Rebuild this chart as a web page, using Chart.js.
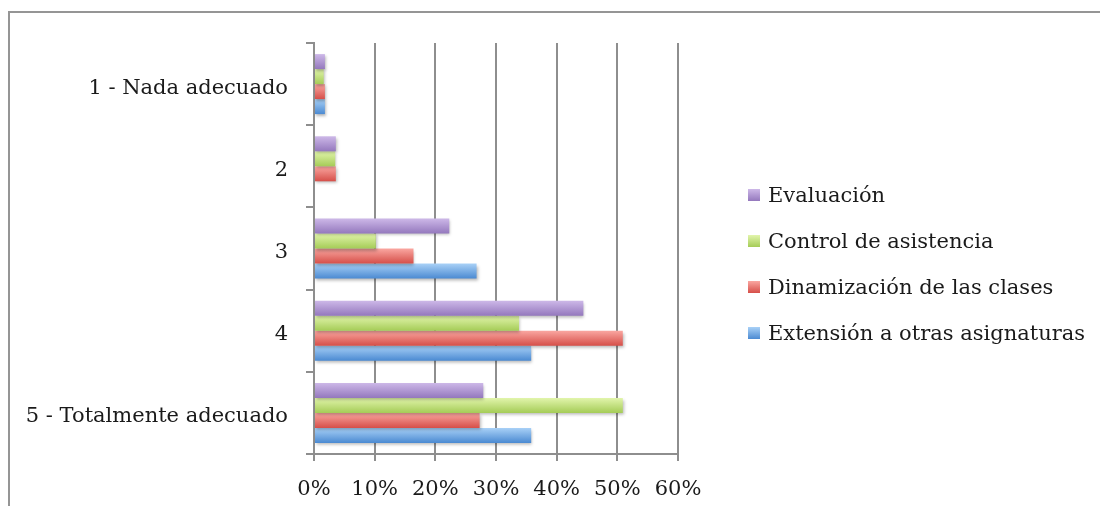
<!DOCTYPE html>
<html lang="es">
<head>
    <meta charset="UTF-8">
    <title>Valoración</title>
    <script src="https://cdn.jsdelivr.net/npm/chart.js"></script>
    <style>
        html, body {
            margin: 0;
            padding: 0;
            background: #ffffff;
            overflow: hidden;
        }
        .marco {
            position: relative;
            width: 1100px;
            height: 506px;
            overflow: hidden;
        }
        .borde {
            position: absolute;
            left: 8px;
            top: 11px;
            width: 1400px;
            height: 800px;
            border-top: 2px solid #959595;
            border-left: 2px solid #959595;
        }
        canvas {
            position: absolute;
            left: 0;
            top: 0;
        }
    </style>
</head>
<body>
    <div class="marco">
        <div class="borde"></div>
        <canvas id="myChart" width="1100" height="506"></canvas>
    </div>
    <script>
        const categorias = ['1 - Nada adecuado', '2', '3', '4', '5 - Totalmente adecuado'];
        const series = ['Evaluación', 'Control de asistencia', 'Dinamización de las clases', 'Extensión a otras asignaturas'];

        // porcentajes por categoría
        const evaluacion = [1.8, 3.6, 22.3, 44.4, 27.9];
        const controlAsistencia = [1.6, 3.5, 10.2, 33.8, 50.9];
        const dinamizacion = [1.8, 3.6, 16.4, 50.9, 27.3];
        const extension = [1.8, 0, 26.8, 35.8, 35.8];

        const ticksX = [0, 10, 20, 30, 40, 50, 60];

        // color claro arriba, oscuro abajo
        const colores = [
            ['#cdb8e8', '#9478bd'],
            ['#e2f5ac', '#a5cc57'],
            ['#faa7a1', '#d64f49'],
            ['#a9d1f7', '#4b8ad2']
        ];

        const fuente = "'DejaVu Serif', serif";
        const gris = '#8e8e8e';

        function degradado(ctx, top, bottom, par) {
            const g = ctx.createLinearGradient(0, top, 0, bottom);
            g.addColorStop(0, par[0]);
            g.addColorStop(1, par[1]);
            return g;
        }

        // cada barra lleva su propio degradado vertical y una sombra suave
        const barrasDegradado = {
            id: 'barrasDegradado',
            beforeDatasetsDraw(chart) {
                const ctx = chart.ctx;
                chart.data.datasets.forEach((ds, i) => {
                    const meta = chart.getDatasetMeta(i);
                    meta.data.forEach(el => {
                        const top = el.y - el.height / 2;
                        const bottom = el.y + el.height / 2;
                        el.options = Object.assign({}, el.options, {
                            backgroundColor: degradado(ctx, top, bottom, colores[i])
                        });
                    });
                });
                ctx.save();
                ctx.shadowColor = 'rgba(0, 0, 0, 0.28)';
                ctx.shadowBlur = 3;
                ctx.shadowOffsetX = 1;
                ctx.shadowOffsetY = 2;
            },
            afterDatasetsDraw(chart) {
                chart.ctx.restore();
            }
        };

        // leyenda a la derecha, dibujada a mano
        const leyenda = {
            id: 'leyenda',
            afterDraw(chart) {
                const ctx = chart.ctx;
                const x0 = chart.chartArea.right + 70;
                let y = 196;
                ctx.save();
                ctx.font = '21px ' + fuente;
                ctx.textBaseline = 'middle';
                chart.data.datasets.forEach((ds, i) => {
                    ctx.fillStyle = degradado(ctx, y - 7, y + 5, colores[i]);
                    ctx.fillRect(x0, y - 7, 12, 12);
                    ctx.fillStyle = '#1a1a1a';
                    ctx.fillText(ds.label, x0 + 20, y + 1);
                    y += 46;
                });
                ctx.restore();
            }
        };

        const valores = [evaluacion, controlAsistencia, dinamizacion, extension];

        const ctx = document.getElementById('myChart').getContext('2d');
        const myChart = new Chart(ctx, {
            type: 'bar',
            data: {
                labels: categorias,
                datasets: series.map((nombre, i) => ({
                    label: nombre,
                    data: valores[i],
                    backgroundColor: colores[i][1],
                    borderWidth: 0,
                    categoryPercentage: 0.73,
                    barPercentage: 1
                }))
            },
            options: {
                indexAxis: 'y',
                responsive: false,
                animation: false,
                events: [],
                layout: {
                    padding: { top: 43, right: 422, bottom: 0, left: 0 }
                },
                plugins: {
                    legend: { display: false },
                    tooltip: { enabled: false }
                },
                scales: {
                    x: {
                        min: 0,
                        max: 60,
                        afterBuildTicks: scale => {
                            scale.ticks = ticksX.map(v => ({ value: v }));
                        },
                        afterFit: scale => { scale.height = 52; },
                        ticks: {
                            callback: v => v + '%',
                            color: '#1a1a1a',
                            font: { family: fuente, size: 21 },
                            padding: 16,
                            maxRotation: 0
                        },
                        grid: {
                            color: gris,
                            lineWidth: 2,
                            tickLength: 7
                        },
                        border: { color: gris, width: 2 }
                    },
                    y: {
                        afterFit: scale => { scale.width = 314; },
                        ticks: {
                            color: '#1a1a1a',
                            font: { family: fuente, size: 21 },
                            padding: 18,
                            labelOffset: 4
                        },
                        grid: {
                            color: gris,
                            lineWidth: 2,
                            drawOnChartArea: false,
                            tickLength: 8,
                            offset: true
                        },
                        border: { color: gris, width: 2 }
                    }
                }
            },
            plugins: [barrasDegradado, leyenda]
        });
    </script>
</body>
</html>
